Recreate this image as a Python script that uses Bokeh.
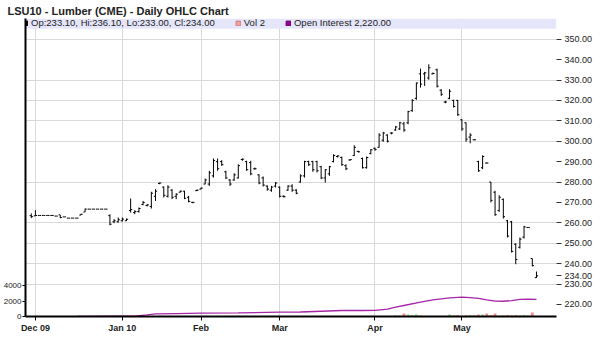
import pandas as pd
from bokeh.plotting import figure
from bokeh.models import (Range1d, LinearAxis, FixedTicker, PrintfTickFormatter,
                          ColumnDataSource, BoxAnnotation, Legend, LegendItem)
from bokeh.embed import file_html
from bokeh.resources import INLINE

# ---- trading calendar (bar positions) ----
holidays = ["2009-12-24", "2009-12-25", "2010-01-01", "2010-01-18", "2010-02-15", "2010-04-02"]
days = [d for d in pd.bdate_range("2009-11-30", "2010-05-27")
        if d.strftime("%Y-%m-%d") not in holidays]

month_labels = ["Dec 09", "Jan 10", "Feb", "Mar", "Apr", "May"]

# ---- OHLC values ----
opens = [263.5, 263.4, 263.6, 263.6, 263.6, 263.6, 263.3, 263.9, 262.9, 262.3,
         262.3, 262.3, 263.8, 265.3, 266.7, 266.7, 266.7, 266.7, 266.7,
         263.5, 260.5, 260.5, 261.0, 261.0, 266.0, 265.0, 265.5, 269.0, 268.5,
         268.0, 273.0, 279.3, 277.5, 273.0, 276.0, 273.0, 275.0, 275.5, 272.5,
         270.0, 275.8, 276.5,
         279.0, 279.0, 283.0, 290.0, 290.0, 285.0, 281.0, 281.0, 282.0, 291.0,
         290.0, 289.5, 286.5, 283.5, 282.0, 278.0, 276.0, 278.0, 277.5, 273.0,
         276.0, 278.0, 276.0, 280.0, 283.0, 290.0, 290.0, 290.0, 287.5, 282.0,
         284.0, 290.0, 292.5, 292.0, 288.0, 290.8, 293.0, 295.0, 291.5, 287.0,
         294.0, 296.5, 297.0, 300.5, 303.0, 304.0, 305.5, 306.0, 308.5, 309.0,
         315.0, 321.0, 333.0, 333.0, 331.0, 333.0, 335.0, 325.0, 319.2, 321.0,
         320.0, 320.0, 310.5, 309.0, 302.0, 300.7, 290.0, 287.0, 289.3, 280.0,
         275.0, 266.0, 271.5, 261.0, 260.5, 249.5, 248.0, 253.0, 257.7, 242.5,
         233.1]
highs = [264.6, 266.2, 263.6, 263.6, 263.6, 263.6, 263.3, 263.9, 262.9, 262.3,
         262.3, 262.3, 264.4, 267.0, 266.7, 266.7, 266.7, 266.7, 266.7,
         264.2, 261.8, 262.6, 262.6, 262.1, 271.9, 266.2, 267.5, 270.7, 269.1,
         275.2, 276.5, 279.7, 277.8, 278.4, 276.5, 274.5, 275.8, 275.7, 273.2,
         270.3, 276.3, 277.3,
         281.7, 285.5, 291.5, 291.5, 290.7, 285.5, 281.4, 284.3, 288.7, 291.5,
         290.4, 290.4, 287.1, 283.8, 282.7, 278.4, 278.1, 280.0, 277.8, 273.5,
         278.4, 278.9, 276.5, 283.8, 290.4, 290.4, 290.4, 290.4, 287.9, 286.3,
         287.9, 293.6, 293.1, 292.5, 288.7, 291.2, 298.0, 295.3, 292.0, 292.5,
         296.1, 296.9, 303.9, 304.6, 303.4, 304.3, 307.5, 309.5, 309.5, 314.9,
         320.6, 328.8, 335.6, 334.0, 337.7, 333.7, 335.6, 325.5, 319.8, 325.5,
         320.3, 320.3, 310.8, 309.2, 303.9, 300.9, 290.4, 293.1, 289.5, 280.0,
         275.7, 273.5, 271.9, 261.4, 260.9, 250.0, 252.8, 258.5, 257.7, 242.5,
         236.1]
lows = [262.3, 263.4, 263.6, 263.6, 263.6, 263.6, 263.3, 262.2, 262.9, 262.3,
        262.3, 262.3, 263.8, 265.3, 266.7, 266.7, 266.7, 266.7, 266.7,
        258.8, 259.8, 260.1, 260.6, 260.9, 265.0, 264.2, 265.0, 268.6, 268.0,
        267.0, 270.7, 278.9, 272.4, 272.4, 271.6, 271.6, 274.9, 271.6, 270.0,
        269.6, 275.5, 276.5,
        278.9, 278.1, 282.2, 285.5, 287.9, 281.4, 278.1, 280.6, 281.7, 290.4,
        285.5, 283.3, 286.0, 278.9, 277.8, 275.7, 275.2, 277.3, 272.4, 272.4,
        275.7, 275.2, 274.0, 279.7, 282.2, 287.9, 285.0, 284.7, 281.4, 279.7,
        283.0, 289.6, 292.0, 287.9, 285.8, 290.4, 292.8, 294.5, 286.6, 286.6,
        293.6, 295.3, 296.9, 299.7, 299.4, 303.4, 305.1, 305.5, 304.6, 308.3,
        314.4, 320.3, 326.3, 327.1, 330.1, 332.8, 326.3, 322.2, 318.6, 320.6,
        316.5, 312.4, 305.1, 299.7, 299.0, 300.5, 285.0, 286.3, 289.1, 270.0,
        263.4, 265.4, 262.1, 252.8, 245.4, 239.7, 247.4, 252.3, 257.7, 238.6,
        233.0]
closes = [263.0, 263.6, 263.6, 263.6, 263.6, 263.6, 263.3, 262.6, 262.9, 262.3,
          262.3, 262.3, 264.2, 266.7, 266.7, 266.7, 266.7, 266.7, 266.7,
          259.3, 261.0, 261.5, 261.8, 261.7, 266.5, 265.5, 267.0, 270.0, 268.8,
          274.5, 275.5, 279.5, 273.5, 277.5, 272.5, 274.0, 275.5, 272.0, 270.5,
          270.0, 276.0, 277.0,
          281.0, 284.5, 290.5, 286.5, 288.5, 282.0, 279.0, 283.5, 288.0, 291.2,
          286.0, 284.0, 286.5, 279.5, 278.5, 276.5, 277.5, 279.5, 273.0, 272.8,
          278.0, 276.0, 274.5, 283.0, 290.0, 288.5, 286.0, 285.5, 282.0, 286.0,
          287.5, 293.0, 292.8, 288.5, 286.5, 291.0, 297.0, 294.8, 287.0, 292.0,
          295.8, 296.0, 303.0, 304.0, 300.0, 304.0, 307.0, 309.0, 305.5, 314.5,
          320.0, 328.5, 328.0, 333.5, 336.0, 333.2, 327.0, 323.0, 319.2, 324.5,
          317.0, 313.0, 306.0, 301.0, 303.0, 300.7, 285.5, 292.5, 289.3, 271.0,
          264.0, 272.5, 263.0, 253.5, 246.0, 242.0, 252.0, 258.0, 257.7, 239.0,
          234.0]

# volume of the last 36 sessions (earlier sessions: 0)
vol_last = [0, 130, 130, 390, 260, 200, 260, 130, 0, 0,
            0, 0, 0, 0, 260, 130, 200, 0, 130, 200,
            130, 260, 260, 390, 200, 390, 130, 130, 200, 130,
            200, 130, 200, 130, 520, 2]

# open interest readings (bar number, contracts)
oi_bar = [11, 20, 25, 28, 30, 35, 41, 50, 60, 65, 70, 75, 80, 83, 86, 88, 90,
          94, 97, 101, 104, 106, 108, 110, 112, 114, 116, 118, 120, 122]
oi_val = [10, 40, 60, 200, 330, 380, 430, 480, 555, 580, 680, 775, 775, 800,
          950, 1200, 1420, 1850, 2150, 2410, 2490, 2440, 2350, 2150, 1980,
          1970, 2050, 2200, 2230, 2220]

price_ticks = [220, 230, 240, 250, 260, 270, 280, 290, 300, 310, 320, 330, 340, 350]
price_grid = [230, 240, 250, 260, 280, 300, 310, 320, 330, 350]
vol_ticks = [0, 2000, 4000]

title_text = "LSU10 - Lumber (CME) - Daily OHLC Chart"
legend_ohlc = "Op:233.10, Hi:236.10, Lo:233.00, Cl:234.00"
legend_vol = "Vol 2"
legend_oi = "Open Interest 2,220.00"
last_label = "234.00"

n = len(days)
assert len(opens) == len(highs) == len(lows) == len(closes) == n, (len(opens), n)
x = list(range(n))
tick_pos = [i for i in range(1, n) if days[i].month != days[i - 1].month]
vol = [0] * (n - len(vol_last)) + vol_last
vol_col = ["#8fdc8f" if (i > 0 and closes[i] >= closes[i - 1]) else "#f29090" for i in range(n)]

src = ColumnDataSource(dict(x=x, xl=[i - 0.4 for i in x], xr=[i + 0.4 for i in x],
                            o=opens, h=highs, l=lows, c=closes, v=vol, vc=vol_col))

FONT = "Liberation Sans"
X0, X1 = -1.39, 126.84

p = figure(width=600, height=352, x_range=Range1d(X0, X1),
           y_range=Range1d(214.07, 360.15), y_axis_location="right",
           output_backend="svg", toolbar_location=None,
           min_border_left=20, min_border_right=44, min_border_top=18, min_border_bottom=36,
           outline_line_color=None, background_fill_color="white", border_fill_color="white")
p.extra_y_ranges = {"vol": Range1d(0, 38452)}

p.title.text = title_text
p.title.text_font = FONT
p.title.text_font_size = "11px"
p.title.text_font_style = "bold"
p.title.text_color = "#222222"
p.title.offset = -18
p.title.standoff = 3

# grids
p.xgrid.ticker = FixedTicker(ticks=tick_pos)
p.ygrid.ticker = FixedTicker(ticks=price_grid)
for g in (p.xgrid[0], p.ygrid[0]):
    g.grid_line_color = "#d9d9d9"
    g.grid_line_width = 1

# legend band
p.add_layout(BoxAnnotation(bottom=355.1, fill_color="#e6e6fa", fill_alpha=1,
                           line_color=None, level="underlay"))

# volume + open interest
p.vbar(x="x", top="v", bottom=0, width=0.7, y_range_name="vol", source=src,
       fill_color="vc", line_color=None)
p.line(x=oi_bar, y=oi_val, y_range_name="vol", line_color="#a626a6", line_width=1.3)

# OHLC bars
p.segment(x0="x", y0="l", x1="x", y1="h", source=src, line_color="black", line_width=1)
p.segment(x0="xl", y0="o", x1="x", y1="o", source=src, line_color="black", line_width=1)
p.segment(x0="x", y0="c", x1="xr", y1="c", source=src, line_color="black", line_width=1)

# price axis (right) with the last close marked
ax = p.yaxis[0]
ax.ticker = FixedTicker(ticks=sorted(price_ticks + [closes[-1]]))
ax.formatter = PrintfTickFormatter(format="%.2f")
ax.major_label_overrides = {closes[-1]: last_label}
ax.axis_line_color = None
ax.major_tick_out = 5
ax.major_tick_in = 0
ax.major_tick_line_color = "#333333"
ax.minor_tick_line_color = None
ax.major_label_text_font = FONT
ax.major_label_text_font_size = "9px"
ax.major_label_text_color = "#222222"
ax.major_label_standoff = 3

vax = LinearAxis(y_range_name="vol", ticker=FixedTicker(ticks=vol_ticks),
                 formatter=PrintfTickFormatter(format="%d"))
vax.axis_line_color = "black"
vax.axis_line_width = 2
vax.major_tick_out = 3
vax.major_tick_in = 0
vax.minor_tick_line_color = None
vax.major_label_text_font = FONT
vax.major_label_text_font_size = "8px"
vax.major_label_text_color = "#222222"
vax.major_label_standoff = 1
p.add_layout(vax, "left")

bx = p.xaxis[0]
bx.ticker = FixedTicker(ticks=tick_pos)
bx.major_label_overrides = {pos: lab for pos, lab in zip(tick_pos, month_labels)}
bx.axis_line_color = "black"
bx.axis_line_width = 2
bx.major_tick_out = 4
bx.major_tick_in = 0
bx.minor_tick_line_color = None
bx.major_label_text_font = FONT
bx.major_label_text_font_size = "9px"
bx.major_label_text_font_style = "bold"
bx.major_label_text_color = "#222222"
bx.major_label_standoff = 2

# legend swatch renderers (placed outside the visible range)
far = [X0 - 50]
r_k = p.quad(left=far, right=far, top=[300], bottom=[300], fill_color="black", line_color="black")
r_v = p.quad(left=far, right=far, top=[300], bottom=[300], fill_color="#f4a0a0", line_color="#d07878")
r_o = p.quad(left=far, right=far, top=[300], bottom=[300], fill_color="#990099", line_color="#660066")
legend = Legend(items=[LegendItem(label=legend_ohlc, renderers=[r_k]),
                       LegendItem(label=legend_vol, renderers=[r_v]),
                       LegendItem(label=legend_oi, renderers=[r_o])],
                orientation="horizontal", location=(-3, 288), margin=0, padding=0,
                spacing=20, label_standoff=3, glyph_width=6, glyph_height=6,
                label_height=9, label_text_font=FONT, label_text_font_size="9.5px",
                label_text_color="#222222", label_text_baseline="middle",
                background_fill_alpha=0, border_line_alpha=0)
p.add_layout(legend)

open("out.html", "w").write(file_html(p, INLINE))
